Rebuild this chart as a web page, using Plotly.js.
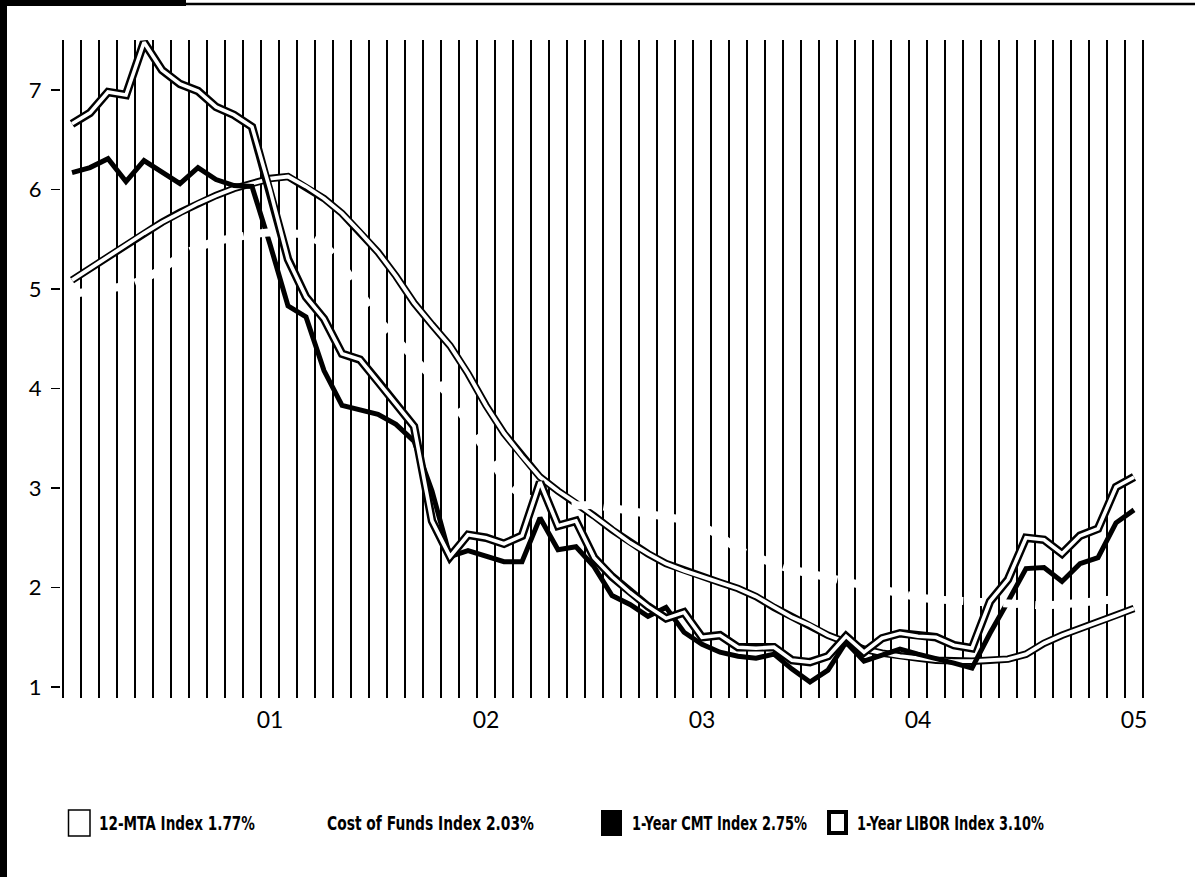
<!DOCTYPE html>
<html>
<head>
<meta charset="utf-8">
<script src="https://cdn.plot.ly/plotly-3.0.1.min.js"></script>
<style>
  html, body { margin: 0; padding: 0; background: #ffffff; }
  #chart { width: 1195px; height: 877px; }
</style>
</head>
<body>
<div id="chart"></div>
<script>
// ---- Data (monthly, Jan 2000 .. Dec 2004) ----
const months = [
  'Jan 00','Feb 00','Mar 00','Apr 00','May 00','Jun 00','Jul 00','Aug 00','Sep 00','Oct 00','Nov 00','Dec 00',
  'Jan 01','Feb 01','Mar 01','Apr 01','May 01','Jun 01','Jul 01','Aug 01','Sep 01','Oct 01','Nov 01','Dec 01',
  'Jan 02','Feb 02','Mar 02','Apr 02','May 02','Jun 02','Jul 02','Aug 02','Sep 02','Oct 02','Nov 02','Dec 02',
  'Jan 03','Feb 03','Mar 03','Apr 03','May 03','Jun 03','Jul 03','Aug 03','Sep 03','Oct 03','Nov 03','Dec 03',
  'Jan 04','Feb 04','Mar 04','Apr 04','May 04','Jun 04','Jul 04','Aug 04','Sep 04','Oct 04','Nov 04','Dec 04'
];

const mta12 = [5.09, 5.21, 5.32, 5.44, 5.56, 5.67, 5.77, 5.86, 5.94, 6.01, 6.06, 6.11,
               6.13, 6.03, 5.91, 5.76, 5.57, 5.37, 5.13, 4.86, 4.64, 4.43, 4.15, 3.83,
               3.55, 3.32, 3.11, 2.97, 2.85, 2.72, 2.58, 2.45, 2.34, 2.24, 2.17, 2.11,
               2.05, 1.99, 1.91, 1.80, 1.70, 1.62, 1.52, 1.45, 1.38, 1.34, 1.31, 1.29,
               1.27, 1.26, 1.26, 1.27, 1.28, 1.33, 1.44, 1.52, 1.59, 1.66, 1.72, 1.79];

const cofi = [4.95, 4.97, 5.00, 5.03, 5.10, 5.20, 5.33, 5.42, 5.48, 5.52, 5.55, 5.57,
              5.56, 5.55, 5.45, 5.25, 4.97, 4.70, 4.50, 4.30, 4.12, 3.92, 3.65, 3.36,
              3.08, 2.92, 2.85, 2.82, 2.82, 2.83, 2.80, 2.77, 2.75, 2.73, 2.68, 2.62,
              2.52, 2.38, 2.30, 2.24, 2.18, 2.14, 2.10, 2.05, 2.01, 1.96, 1.93, 1.90,
              1.88, 1.87, 1.86, 1.85, 1.83, 1.82, 1.82, 1.83, 1.85, 1.87, 1.89, 1.90];

const cmt1 = [6.17, 6.22, 6.31, 6.08, 6.29, 6.17, 6.06, 6.22, 6.10, 6.04, 6.03, 5.45,
              4.83, 4.72, 4.18, 3.83, 3.79, 3.74, 3.64, 3.47, 2.97, 2.31, 2.37, 2.31,
              2.26, 2.26, 2.70, 2.38, 2.41, 2.21, 1.92, 1.83, 1.71, 1.80, 1.55, 1.43,
              1.35, 1.31, 1.29, 1.33, 1.18, 1.05, 1.17, 1.45, 1.26, 1.32, 1.38, 1.33,
              1.29, 1.24, 1.19, 1.54, 1.86, 2.19, 2.20, 2.06, 2.24, 2.30, 2.65, 2.78];

const libor1 = [6.66, 6.77, 6.98, 6.95, 7.48, 7.20, 7.06, 6.99, 6.83, 6.75, 6.63, 6.00,
                5.30, 4.92, 4.70, 4.35, 4.29, 4.07, 3.85, 3.62, 2.67, 2.31, 2.53, 2.50,
                2.44, 2.52, 3.06, 2.62, 2.67, 2.30, 2.11, 1.95, 1.81, 1.69, 1.75, 1.50,
                1.52, 1.40, 1.39, 1.40, 1.27, 1.25, 1.31, 1.51, 1.35, 1.49, 1.54, 1.51,
                1.50, 1.42, 1.39, 1.86, 2.08, 2.50, 2.48, 2.34, 2.52, 2.59, 3.01, 3.11];

const xTickMonths = ['Dec 00', 'Dec 01', 'Dec 02', 'Dec 03', 'Dec 04'];
const xTickLabels = ['01', '02', '03', '04', '05'];
const yTickVals = [1, 2, 3, 4, 5, 6, 7];

const legendLabels = ['12-MTA Index 1.77%', 'Cost of Funds Index 2.03%',
                      '1-Year CMT Index 2.75%', '1-Year LIBOR Index 3.10%'];

// ---- Build ----
const xIdx = months.map((m, i) => i);
const tickIdx = xTickMonths.map(m => months.indexOf(m));

const W = 1195, H = 877;
const M = { l: 61, r: 50, t: 40, b: 179 };
const PW = W - M.l - M.r, PH = H - M.t - M.b;
const px = x => (x - M.l) / PW;      // pixel -> paper x
const py = y => (H - M.b - y) / PH;  // pixel -> paper y

function line(y, color, width, dash) {
  return { x: xIdx, y: y, type: 'scatter', mode: 'lines', hoverinfo: 'skip',
           line: { color: color, width: width, dash: dash || 'solid', shape: 'linear' } };
}

const traces = [
  line(mta12, '#000', 7.5),
  line(mta12, '#fff', 3.8),
  line(cmt1, '#000', 5),
  line(cofi, '#fff', 8, '24px,8px'),
  line(libor1, '#000', 8.5),
  line(libor1, '#fff', 3.6)
];

const xTickFont = { family: 'Lato, "Open Sans", "DejaVu Sans", sans-serif', size: 23, color: '#000' };
const yTickFont = { family: 'Lato, "Open Sans", "DejaVu Sans", sans-serif', size: 22, color: '#000' };
const legFont = { family: '"DejaVu Sans", sans-serif', size: 19, color: '#000', weight: 'bold' };

const legY = py(823);
const shapes = [
  // scan frame
  { type: 'rect', xref: 'paper', yref: 'paper', x0: px(0), x1: px(7), y0: py(877), y1: py(0),
    fillcolor: '#000', line: { width: 0 } },
  { type: 'rect', xref: 'paper', yref: 'paper', x0: px(0), x1: px(186), y0: py(6), y1: py(0),
    fillcolor: '#000', line: { width: 0 } },
  { type: 'line', xref: 'paper', yref: 'paper', x0: px(186), x1: px(1195), y0: py(4), y1: py(4),
    line: { color: '#000', width: 2.5 } },
  // legend keys
  { type: 'rect', xref: 'paper', yref: 'paper', x0: px(68.5), x1: px(90), y0: py(836), y1: py(810),
    fillcolor: '#fff', line: { color: '#000', width: 1.5 } },
  { type: 'rect', xref: 'paper', yref: 'paper', x0: px(601), x1: px(622), y0: py(836), y1: py(810),
    fillcolor: '#000', line: { width: 0 } },
  { type: 'rect', xref: 'paper', yref: 'paper', x0: px(829), x1: px(846), y0: py(833), y1: py(812),
    fillcolor: '#fff', line: { color: '#000', width: 4 } }
];

const legX = [97, 325, 630, 855];
const legW = [156, 207, 175, 187];   // condensed widths of the legend labels
const annotations = legendLabels.map((t, i) => ({
  text: t, xref: 'paper', yref: 'paper', x: px(legX[i]), y: legY,
  xanchor: 'left', yanchor: 'middle', showarrow: false, font: legFont
}));

const layout = {
  width: W, height: H, margin: M,
  paper_bgcolor: '#fff', plot_bgcolor: '#fff',
  showlegend: false,
  xaxis: {
    type: 'linear',
    range: [-0.5 - 2 / 18, months.length - 0.5 + 2 / 18],
    tickmode: 'array', tickvals: tickIdx, ticktext: xTickLabels,
    showgrid: false, zeroline: false, showline: false, ticks: '',
    tickfont: xTickFont, ticklabelstandoff: 6,
    minor: { tickmode: 'linear', tick0: -0.5, dtick: 1, showgrid: true,
             gridcolor: '#000', gridwidth: 1.5, ticks: '' },
    fixedrange: true
  },
  yaxis: {
    range: [1 - 11 / 99.5, 1 + 647 / 99.5],
    tickmode: 'array', tickvals: yTickVals,
    showgrid: false, zeroline: false, showline: false,
    ticks: 'outside', ticklen: 9, tickwidth: 1.5, tickcolor: '#000',
    tickfont: yTickFont, ticklabelstandoff: 5,
    fixedrange: true
  },
  shapes: shapes,
  annotations: annotations
};

Plotly.newPlot('chart', traces, layout, { staticPlot: true, displayModeBar: false }).then(gd => {
  // condense the legend labels horizontally (the original uses a condensed bold face)
  const texts = gd.querySelectorAll('.annotation-text');
  texts.forEach((t, i) => {
    const bb = t.getBBox();
    if (!bb.width) return;
    const s = legW[i] / bb.width;
    t.setAttribute('transform',
      'translate(' + bb.x + ',0) scale(' + s + ',1) translate(' + (-bb.x) + ',0)');
  });
});
</script>
</body>
</html>
